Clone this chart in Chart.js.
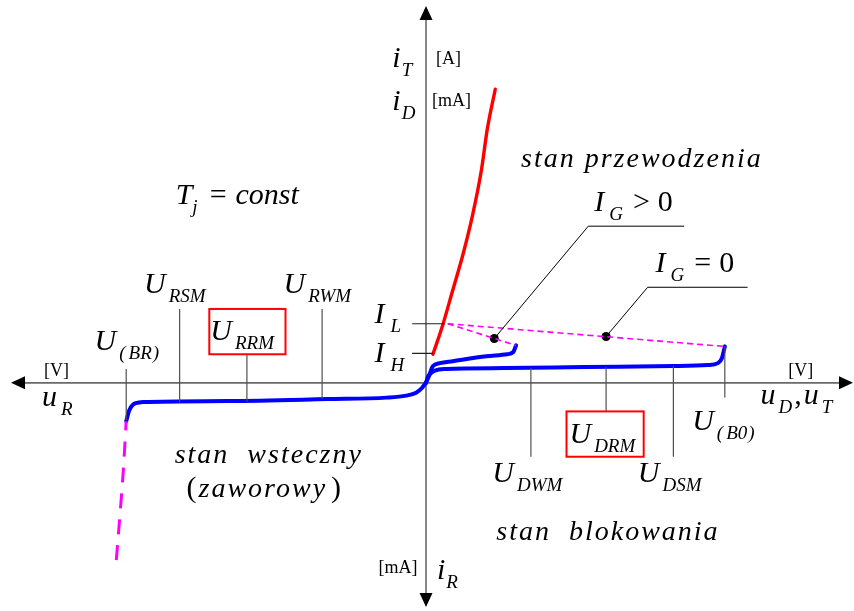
<!DOCTYPE html>
<html>
<head>
<meta charset="utf-8">
<script src="https://cdn.jsdelivr.net/npm/chart.js@4/dist/chart.umd.min.js"></script>
<style>
  html, body { margin: 0; padding: 0; background: #fff; }
  #thyristor { display: block; }
</style>
</head>
<body>
<canvas id="thyristor" width="854" height="611"></canvas>
<script>
// voltage u (right = forward) and current i (up = forward), in drawing units
const reverseU = [-303, -300, -296, -290, -286, -200, -100, -40, -20, -10, -4, 0]
const reverseI = [-39, -28, -22, -20, -19.5, -18.5, -16.5, -15, -13, -10, -5, 0]
const breakdownU = [-313, -309, -306, -303]
const breakdownI = [-180, -130, -90, -39]
const blockingU = [0, 2, 5, 9, 20, 80, 160, 250, 285, 295, 299, 302]
const blockingI = [0, 6, 10, 12.5, 14, 15, 16, 17, 18, 20, 25, 37]
const gateU = [0, 3, 7, 14, 27, 61, 82, 88, 91]
const gateI = [0, 7, 17, 20, 22, 27, 29, 31, 38]
const onStateU = [7, 17, 27, 37, 47, 56, 62, 70]
const onStateI = [29, 59, 94, 129, 170, 216, 258, 298]
const switchNoGateU = [22, 301]
const switchNoGateI = [60, 37]
const switchGateU = [22, 91]
const switchGateI = [60, 38]
const markU = [69, 182]
const markI = [45, 47]

// characteristic voltages marked on the u axis
const reverseTickU = [-303, -249, -181, -105]
const reverseTickFrom = [-38, -20, -19, -16]
const reverseTickTo = [14, 75, 29, 75]
const forwardTickU = [106, 182, 250, 302]
const forwardTickFrom = [15, 16, 17, 37]
const forwardTickTo = [-75, -29, -75, -15]
// latching and holding current
const holdTickI = [60, 30]
const holdTickTo = [19, 7]

const pts = (us, is) => us.map((u, k) => ({ x: u, y: is[k] }))

const fonts = {
  m: { font: 'italic 30px "Liberation Serif"', dy: 0 },
  s: { font: 'italic 19px "Liberation Serif"', dy: 9 },
  r: { font: '30px "Liberation Serif"', dy: 0 },
  u: { font: '18px "Liberation Serif"', dy: 0 },
  t: { font: 'italic 28px "Liberation Serif"', dy: 0, ls: '2px' }
}

const labels = [
  { at: [-34, 321], runs: [["i", "m"], ["T", "s", 1]] },
  { at: [10, 324], runs: [["[A]", "u"]] },
  { at: [-34, 277], runs: [["i", "m"], ["D", "s", 1]] },
  { at: [6, 281], runs: [["[mA]", "u"]] },
  { at: [-253, 182], runs: [["T", "m"], ["j", "s", 0], ["=", "r", 12], ["const", "m", 9]] },
  { at: [96, 219], runs: [["stan przewodzenia", "t"]] },
  { at: [170, 174], runs: [["I", "m"], ["G", "s", 5], [">", "r", 10], ["0", "r", 8]] },
  { at: [232, 112], runs: [["I", "m"], ["G", "s", 5], ["=", "r", 10], ["0", "r", 8]] },
  { at: [-52, 61], runs: [["I", "m"], ["L", "s", 6]] },
  { at: [-52, 21], runs: [["I", "m"], ["H", "s", 6]] },
  { at: [-285, 91], runs: [["U", "m"], ["RSM", "s", 3]] },
  { at: [-144, 91], runs: [["U", "m"], ["RWM", "s", 3]] },
  { at: [-335, 33], runs: [["U", "m"], ["(", "s", 3], ["BR", "s", 3], [")", "s", 1]] },
  { at: [-218, 43], runs: [["U", "m"], ["RRM", "s", 3]] },
  { at: [-386, 7], runs: [["[V]", "u"]] },
  { at: [-388, -24], runs: [["u", "m"], ["R", "s", 4]] },
  { at: [366, 7], runs: [["[V]", "u"]] },
  { at: [338, -21], runs: [["u", "m"], ["D", "s", 3], [",", "r", 2], ["u", "m", 2], ["T", "s", 3]] },
  { at: [269, -48], runs: [["U", "m"], ["(", "s", 3], ["B0", "s", 3], [")", "s", 1]] },
  { at: [145, -61], runs: [["U", "m"], ["DRM", "s", 3]] },
  { at: [67, -101], runs: [["U", "m"], ["DWM", "s", 3]] },
  { at: [214, -101], runs: [["U", "m"], ["DSM", "s", 3]] },
  { at: [-254, -81], runs: [["stan  wsteczny", "t"]] },
  { at: [-242, -116], runs: [["(", "r"], ["zaworowy", "t", 2], [")", "r", 4]] },
  { at: [71, -159], runs: [["stan  blokowania", "t"]] },
  { at: [-48, -193], runs: [["[mA]", "u"]] },
  { at: [11, -199], runs: [["i", "m"], ["R", "s", 1]] }
]

// rated-voltage boxes: [u0, u1, i0, i1]
const boxes = [[-219, -142, 75, 29], [142, 220, -29, -75]]
// leader lines from the switching markers to their captions
const leaders = [
  [[69, 45], [164, 159], [261, 159]],
  [[182, 47], [224, 97], [325, 97]]
]

const thin = (data, color, width) => ({
  data, showLine: true, borderColor: color, borderWidth: width, pointRadius: 0, tension: 0
})
const curve = (data, color, width) => ({
  data, showLine: true, borderColor: color, borderWidth: width, pointRadius: 0,
  cubicInterpolationMode: "monotone", borderCapStyle: "round", borderJoinStyle: "round"
})

const datasets = []
reverseTickU.forEach((u, k) => datasets.push(thin([{ x: u, y: reverseTickFrom[k] }, { x: u, y: reverseTickTo[k] }], "#505050", 1.2)))
forwardTickU.forEach((u, k) => datasets.push(thin([{ x: u, y: forwardTickFrom[k] }, { x: u, y: forwardTickTo[k] }], "#505050", 1.2)))
holdTickI.forEach((i, k) => datasets.push(thin([{ x: -14, y: i }, { x: holdTickTo[k], y: i }], "#202020", 1.2)))
leaders.forEach(l => datasets.push(thin(l.map(p => ({ x: p[0], y: p[1] })), "#000", 1)))

datasets.push({ ...curve(pts(breakdownU, breakdownI), "#ff00ff", 3), borderDash: [15, 11], borderCapStyle: "butt" })
datasets.push({ ...thin(pts(switchNoGateU, switchNoGateI), "#ff00ff", 1.6), borderDash: [6, 4] })
datasets.push({ ...thin(pts(switchGateU, switchGateI), "#ff00ff", 1.6), borderDash: [6, 4] })
datasets.push(curve(pts(reverseU, reverseI), "#0000ff", 4))
datasets.push(curve(pts(blockingU, blockingI), "#0000ff", 4))
datasets.push(curve(pts(gateU, gateI), "#0000ff", 4))
datasets.push(curve(pts(onStateU, onStateI), "#ff0000", 3.4))
datasets.push({ data: pts(markU, markI), showLine: false, pointRadius: 4.5, pointBackgroundColor: "#000", pointBorderWidth: 0 })

const paper = {
  id: "paper",
  beforeDraw(chart) {
    const { ctx, width, height } = chart
    ctx.save()
    ctx.fillStyle = "#fff"
    ctx.fillRect(0, 0, width, height)
    ctx.restore()
  }
}

// u and i axes with arrowheads
const axesArrows = {
  id: "axesArrows",
  beforeDatasetsDraw(chart) {
    const { ctx, scales: { x, y }, width, height } = chart
    const ox = x.getPixelForValue(0), oy = y.getPixelForValue(0)
    ctx.save()
    ctx.strokeStyle = "#6a6a6a"
    ctx.lineWidth = 1.6
    ctx.beginPath()
    ctx.moveTo(14, oy); ctx.lineTo(width - 4, oy)
    ctx.moveTo(ox, 10); ctx.lineTo(ox, height - 6)
    ctx.stroke()
    ctx.fillStyle = "#000"
    const head = (pts) => { ctx.beginPath(); ctx.moveTo(...pts[0]); ctx.lineTo(...pts[1]); ctx.lineTo(...pts[2]); ctx.closePath(); ctx.fill() }
    head([[11, oy], [25, oy - 6.5], [25, oy + 6.5]])
    head([[width - 1, oy], [width - 15, oy - 6.5], [width - 15, oy + 6.5]])
    head([[ox, 6], [ox - 6.5, 20], [ox + 6.5, 20]])
    head([[ox, height - 4], [ox - 6.5, height - 18], [ox + 6.5, height - 18]])
    ctx.restore()
  }
}

const annotations = {
  id: "annotations",
  afterDatasetsDraw(chart) {
    const { ctx, scales: { x, y } } = chart
    ctx.save()
    ctx.strokeStyle = "#ff0000"
    ctx.lineWidth = 2
    boxes.forEach(([u0, u1, i0, i1]) => {
      const px = x.getPixelForValue(u0), py = y.getPixelForValue(i0)
      ctx.strokeRect(px, py, x.getPixelForValue(u1) - px, y.getPixelForValue(i1) - py)
    })
    ctx.fillStyle = "#000"
    ctx.textBaseline = "alphabetic"
    labels.forEach(l => {
      let cx = x.getPixelForValue(l.at[0])
      const by = y.getPixelForValue(l.at[1])
      l.runs.forEach(([t, st, gap = 0]) => {
        const f = fonts[st]
        ctx.font = f.font
        ctx.letterSpacing = f.ls || "0px"
        cx += gap
        ctx.fillText(t, cx, by + f.dy)
        cx += ctx.measureText(t).width
      })
    })
    ctx.restore()
  }
}

new Chart(document.getElementById("thyristor"), {
  type: "scatter",
  data: { datasets },
  options: {
    responsive: false,
    devicePixelRatio: 1,
    animation: false,
    layout: { padding: 0 },
    scales: {
      x: { type: "linear", min: -426, max: 428, display: false },
      y: { type: "linear", min: -227, max: 384, display: false }
    },
    plugins: { legend: { display: false }, tooltip: { enabled: false } }
  },
  plugins: [paper, axesArrows, annotations]
})
</script>
</body>
</html>
